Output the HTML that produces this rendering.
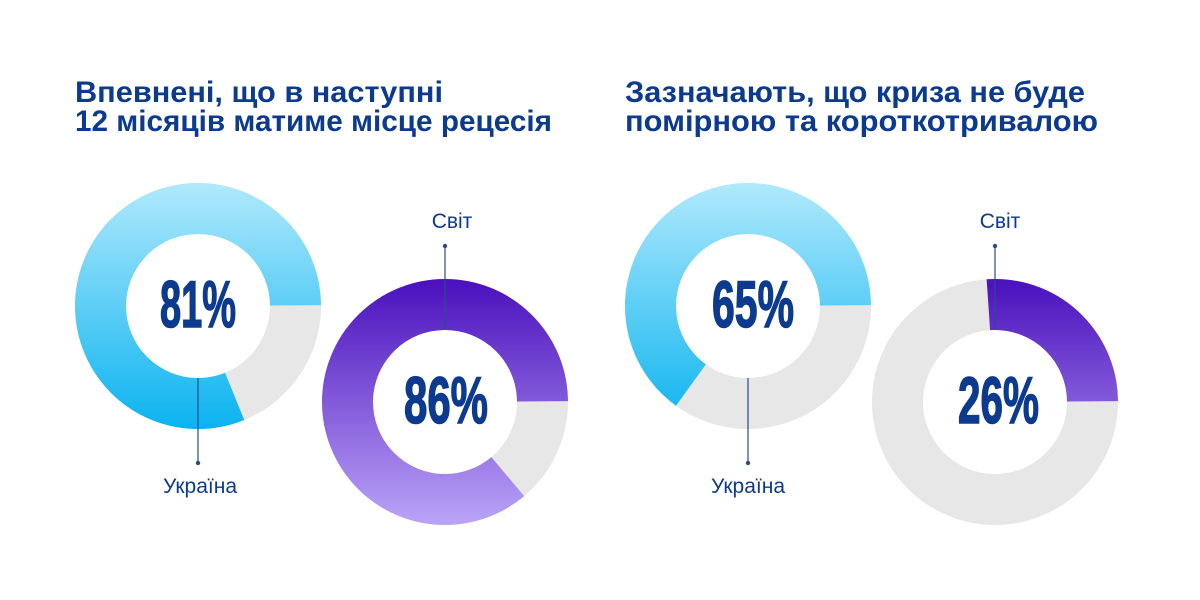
<!DOCTYPE html>
<html><head><meta charset="utf-8"><style>html,body{margin:0;padding:0;background:#fff}svg{display:block}</style></head>
<body>
<svg width="1200" height="600" viewBox="0 0 1200 600" xmlns="http://www.w3.org/2000/svg">
<defs>
<linearGradient id="b1" gradientUnits="userSpaceOnUse" x1="0" y1="183" x2="0" y2="430"><stop offset="0" stop-color="#b0e9fc"/><stop offset="1" stop-color="#0ab3ef"/></linearGradient>
<linearGradient id="b3" gradientUnits="userSpaceOnUse" x1="0" y1="183" x2="0" y2="430"><stop offset="0" stop-color="#b0e9fc"/><stop offset="1" stop-color="#0ab3ef"/></linearGradient>
<linearGradient id="p2" gradientUnits="userSpaceOnUse" x1="0" y1="279" x2="0" y2="526"><stop offset="0" stop-color="#4a10bd"/><stop offset="1" stop-color="#bba4f7"/></linearGradient>
<linearGradient id="p4" gradientUnits="userSpaceOnUse" x1="0" y1="279" x2="0" y2="526"><stop offset="0" stop-color="#4a10bd"/><stop offset="1" stop-color="#bba4f7"/></linearGradient>
</defs>
<g font-family="Liberation Sans, sans-serif" font-weight="bold" font-size="30" fill="#0c3a8f">
<text x="75" y="102" textLength="368" lengthAdjust="spacingAndGlyphs">Впевнені, що в наступні</text>
<text x="75" y="131" textLength="477" lengthAdjust="spacingAndGlyphs">12 місяців матиме місце рецесія</text>
<text x="625" y="102" textLength="460" lengthAdjust="spacingAndGlyphs">Зазначають, що криза не буде</text>
<text x="625" y="131" textLength="473" lengthAdjust="spacingAndGlyphs">помірною та короткотривалою</text>
</g>
<g fill="none" stroke-width="51">
<circle cx="198" cy="306" r="97.5" stroke="#e7e7e7"/>
<circle cx="198" cy="306" r="97.5" stroke="url(#b1)" pathLength="360" stroke-dasharray="0 68 292 0"/>
<circle cx="445" cy="402" r="97.5" stroke="#e7e7e7"/>
<circle cx="445" cy="402" r="97.5" stroke="url(#p2)" pathLength="360" stroke-dasharray="0 50 310 0"/>
<circle cx="748" cy="306" r="97.5" stroke="#e7e7e7"/>
<circle cx="748" cy="306" r="97.5" stroke="url(#b3)" pathLength="360" stroke-dasharray="0 126 234 0"/>
<circle cx="995" cy="402" r="97.5" stroke="#e7e7e7"/>
<circle cx="995" cy="402" r="97.5" stroke="url(#p4)" pathLength="360" stroke-dasharray="0 266.4 93.6 0"/>
</g>
<g stroke="#2c4a8a" stroke-width="1.2">
<line x1="198" y1="378" x2="198" y2="463"/>
<line x1="445" y1="246" x2="445" y2="330"/>
<line x1="748" y1="378" x2="748" y2="463"/>
<line x1="995" y1="246" x2="995" y2="330"/>
</g>
<g fill="#2c4a8a">
<circle cx="198" cy="463" r="2.2"/><circle cx="445" cy="246" r="2.2"/>
<circle cx="748" cy="463" r="2.2"/><circle cx="995" cy="246" r="2.2"/>
</g>
<g font-family="Liberation Sans, sans-serif" font-size="21" fill="#0c3a8f" text-anchor="middle">
<text x="200" y="493">Україна</text>
<text x="452" y="228">Світ</text>
<text x="748" y="493">Україна</text>
<text x="1000" y="228">Світ</text>
</g>
<g font-family="Liberation Sans, sans-serif" font-weight="bold" font-size="66" fill="#0c3a8f" stroke="#0c3a8f" stroke-width="1.5">
<text x="160" y="327" textLength="76" lengthAdjust="spacingAndGlyphs">81%</text>
<text x="404" y="423" textLength="84" lengthAdjust="spacingAndGlyphs">86%</text>
<text x="712" y="327" textLength="82" lengthAdjust="spacingAndGlyphs">65%</text>
<text x="958" y="423" textLength="81" lengthAdjust="spacingAndGlyphs">26%</text>
</g>
</svg>
</body></html>
